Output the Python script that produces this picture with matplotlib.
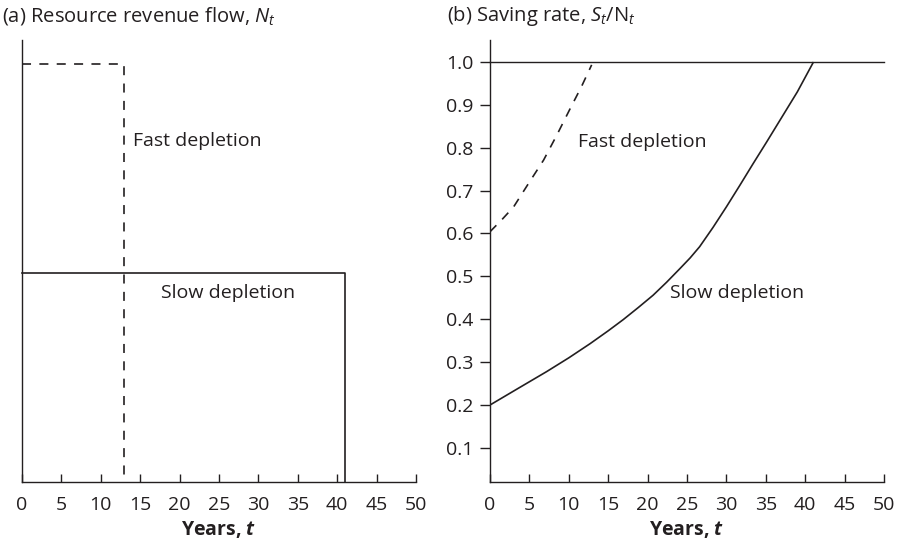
import matplotlib
matplotlib.use("Agg")
import matplotlib.pyplot as plt

# ---------------- data ----------------
YEARS_TICKS = [0, 5, 10, 15, 20, 25, 30, 35, 40, 45, 50]
SAVING_TICKS = [0.1, 0.2, 0.3, 0.4, 0.5, 0.6, 0.7, 0.8, 0.9, 1.0]

# panel (a): revenue flow
fast_t = [0, 13, 13]
fast_n = [2.0, 2.0, 0.0]
slow_t = [0, 41, 41]
slow_n = [1.0, 1.0, 0.0]

# panel (b): saving rate
fast_s_t = [0, 1.5, 3.0, 4.8, 6.8, 8.5, 10.2, 11.6, 12.9]
fast_s = [0.604, 0.632, 0.662, 0.714, 0.771, 0.830, 0.892, 0.942, 0.993]
slow_s_t = [0, 3.5, 7.2, 10.0, 12.7, 15.0, 16.9, 18.8, 20.7, 22.4, 24.1,
            25.4, 26.6, 28.3, 30.0, 31.7, 33.4, 35.1, 36.8, 39.0, 41.0]
slow_s = [0.200, 0.238, 0.278, 0.310, 0.343, 0.373, 0.399, 0.427, 0.456,
          0.486, 0.518, 0.543, 0.569, 0.614, 0.662, 0.712, 0.763, 0.813,
          0.864, 0.930, 0.998]

INK = "#231f20"
FONT = "Open Sans"

plt.rcParams["font.family"] = [FONT, "DejaVu Sans"]
plt.rcParams["mathtext.fontset"] = "custom"
plt.rcParams["mathtext.rm"] = FONT
plt.rcParams["mathtext.it"] = f"{FONT}:italic"
plt.rcParams["mathtext.bf"] = f"{FONT}:bold"
plt.rcParams["mathtext.bfit"] = f"{FONT}:italic:bold"
plt.rcParams["lines.scale_dashes"] = False

DASH = (0, (6.5, 6.0))
LW = 1.2
FS = 14

fig = plt.figure(figsize=(9.02, 5.45), dpi=100)
ax1 = fig.add_axes([22 / 902, 63 / 545, 394 / 902, 442 / 545])
ax2 = fig.add_axes([490 / 902, 63 / 545, 394 / 902, 442 / 545])

for ax in (ax1, ax2):
    for side in ("top", "right"):
        ax.spines[side].set_visible(False)
    for side in ("left", "bottom"):
        ax.spines[side].set_color(INK)
        ax.spines[side].set_linewidth(1.0)
    ax.set_xlim(0, 50)
    ax.set_xticks(YEARS_TICKS)
    ax.tick_params(axis="x", direction="in", length=6, width=1.0,
                   colors=INK, labelsize=FS, pad=10)
    ax.set_xlabel(r"Years, $\mathbfit{t}$", fontsize=FS, fontweight="bold",
                  color=INK, labelpad=4)

# ---------------- (a) ----------------
ax1.set_ylim(0, 2.115)
ax1.set_yticks([])
ax1.plot(fast_t, fast_n, color=INK, lw=LW, linestyle=DASH, clip_on=False)
ax1.plot(slow_t, slow_n, color=INK, lw=LW, clip_on=False)
ax1.text(14.1, 1.632, "Fast depletion", fontsize=FS, color=INK,
         ha="left", va="center")
ax1.text(17.7, 0.904, "Slow depletion", fontsize=FS, color=INK,
         ha="left", va="center")
fig.text(2 / 902, 1 - 16 / 545, "(a) Resource revenue flow, $N_t$",
         fontsize=14.5, color=INK, ha="left", va="center")

# ---------------- (b) ----------------
ax2.set_ylim(0.0205, 1.051)
ax2.set_yticks(SAVING_TICKS)
ax2.set_yticklabels([f"{v:.1f}" for v in SAVING_TICKS])
ax2.tick_params(axis="y", direction="out", length=7, width=1.0,
                colors=INK, labelsize=FS, pad=5)
ax2.plot([0, 50], [1.0, 1.0], color=INK, lw=1.0, clip_on=False)
ax2.plot(fast_s_t, fast_s, color=INK, lw=LW, linestyle=DASH)
ax2.plot(slow_s_t, slow_s, color=INK, lw=LW)
ax2.text(11.2, 0.814, "Fast depletion", fontsize=FS, color=INK,
         ha="left", va="center")
ax2.text(22.9, 0.460, "Slow depletion", fontsize=FS, color=INK,
         ha="left", va="center")
fig.text(447 / 902, 1 - 16 / 545, r"(b) Saving rate, $S_t/\mathrm{N}_t$",
         fontsize=14.5, color=INK, ha="left", va="center")

fig.savefig("out.png", dpi=100)
